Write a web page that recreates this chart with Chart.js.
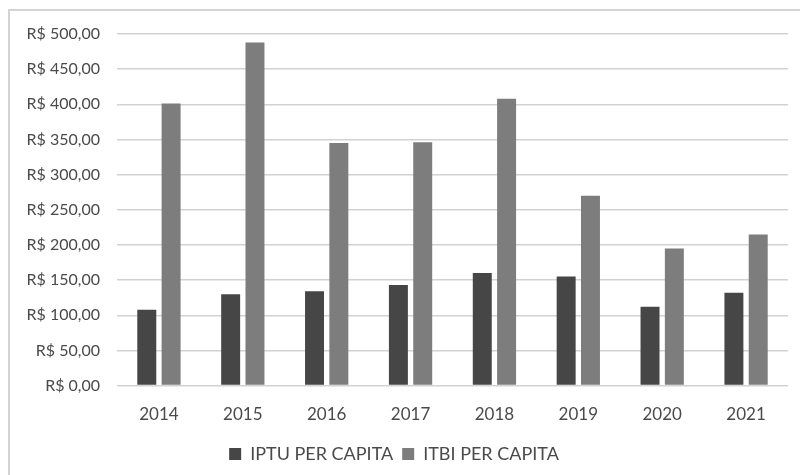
<!DOCTYPE html>
<html>
<head>
<meta charset="utf-8">
<script src="https://cdn.jsdelivr.net/npm/chart.js@4"></script>
<style>
    html, body { margin: 0; padding: 0; background: #fff; overflow: hidden; }
    #frame {
        position: absolute; left: 8px; top: 9px; width: 830px; height: 500px;
        border: 2px solid #d4d4d4; box-sizing: border-box;
    }
    #wrap { position: absolute; left: 0; top: 0; width: 800px; height: 475px; }
</style>
</head>
<body>
<div id="frame"></div>
<div id="wrap"><canvas id="chart"></canvas></div>
<script>
const years = ['2014', '2015', '2016', '2017', '2018', '2019', '2020', '2021'];
const iptuPerCapita = [108, 130, 134, 143, 160, 155, 112, 132];
const itbiPerCapita = [401, 488, 345, 346, 408, 270, 195, 215];
const yTicks = [0, 50, 100, 150, 200, 250, 300, 350, 400, 450, 500];

document.addEventListener('DOMContentLoaded', function () {
    const ctx = document.getElementById('chart').getContext('2d');

    function formatReal(value) {
        return 'R$ ' + value.toFixed(2).replace('.', ',');
    }

    new Chart(ctx, {
        type: 'bar',
        data: {
            labels: years,
            datasets: [{
                label: 'IPTU PER CAPITA',
                data: iptuPerCapita,
                backgroundColor: '#464646',
                barPercentage: 0.78,
                categoryPercentage: 0.58
            }, {
                label: 'ITBI PER CAPITA',
                data: itbiPerCapita,
                backgroundColor: '#7d7d7d',
                barPercentage: 0.78,
                categoryPercentage: 0.58
            }]
        },
        options: {
            responsive: true,
            maintainAspectRatio: false,
            animation: false,
            layout: {
                padding: { top: 34, right: 12, bottom: 2, left: 0 }
            },
            scales: {
                x: {
                    grid: { display: false },
                    border: { display: false },
                    ticks: {
                        color: '#4a4a4a',
                        padding: 11,
                        font: { family: 'Lato', size: 17 }
                    }
                },
                y: {
                    min: 0,
                    max: 500,
                    afterFit: function (scale) { scale.width = 117; },
                    afterBuildTicks: function (scale) {
                        scale.ticks = yTicks.map(v => ({ value: v }));
                    },
                    grid: { color: '#d2d2d2', lineWidth: 1.5, drawTicks: false },
                    border: { display: false },
                    ticks: {
                        color: '#4a4a4a',
                        padding: 17,
                        font: { family: 'Lato', size: 16 },
                        callback: function (value) { return formatReal(value); }
                    }
                }
            },
            plugins: {
                legend: {
                    position: 'bottom',
                    labels: {
                        color: '#4a4a4a',
                        boxWidth: 12,
                        boxHeight: 12,
                        padding: 9,
                        font: { family: 'Lato', size: 18 }
                    }
                },
                tooltip: { enabled: false }
            }
        }
    });
});
</script>
</body>
</html>
